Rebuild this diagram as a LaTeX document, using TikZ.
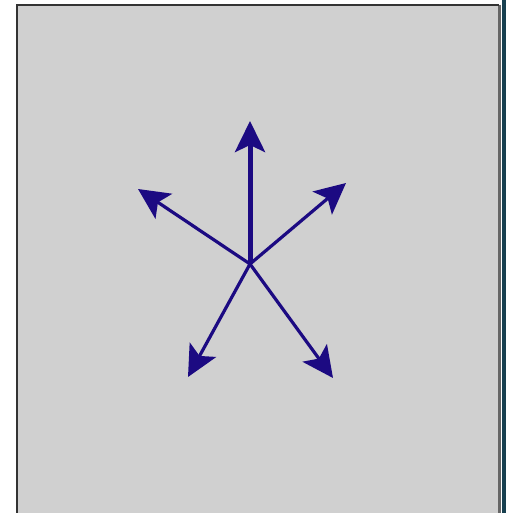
\documentclass[tikz,border=0pt]{standalone}
\usepackage{tikz}
\usetikzlibrary{arrows.meta}

\definecolor{panelgray}{RGB}{208,208,208}
\definecolor{arrowblue}{RGB}{28,10,130}
\definecolor{edgeteal}{RGB}{24,64,80}

\tikzset{
  vec/.style={draw=arrowblue,line width=3.2pt,
    -{Stealth[length=31pt,width=30pt,inset=7pt]}},
}

\begin{document}
\begin{tikzpicture}[x=1pt,y=-1pt]
  \useasboundingbox (0,0) rectangle (506,513);
  \fill[white] (0,0) rectangle (506,513);
  % panel
  \fill[panelgray] (16,5) rectangle (500,513);
  \fill[edgeteal] (502,0) rectangle (506,513);
  \draw[gray!80!black,line width=3pt] (499,5) -- (499,513);
  \draw[black!80,line width=2pt] (16.5,513) -- (16.5,5) -- (499,5);
  % centre and tips
  \coordinate (o) at (250,264);
  \coordinate (up) at (250,121);
  \coordinate (ul) at (138,189);
  \coordinate (ur) at (346,183);
  \coordinate (ll) at (188,377);
  \coordinate (lr) at (333,378);
  \draw[vec,line width=5pt] (o) -- (up);
  \foreach \t in {ul,ur,ll,lr}{
    \draw[vec] (o) -- (\t);
  }
\end{tikzpicture}
\end{document}
